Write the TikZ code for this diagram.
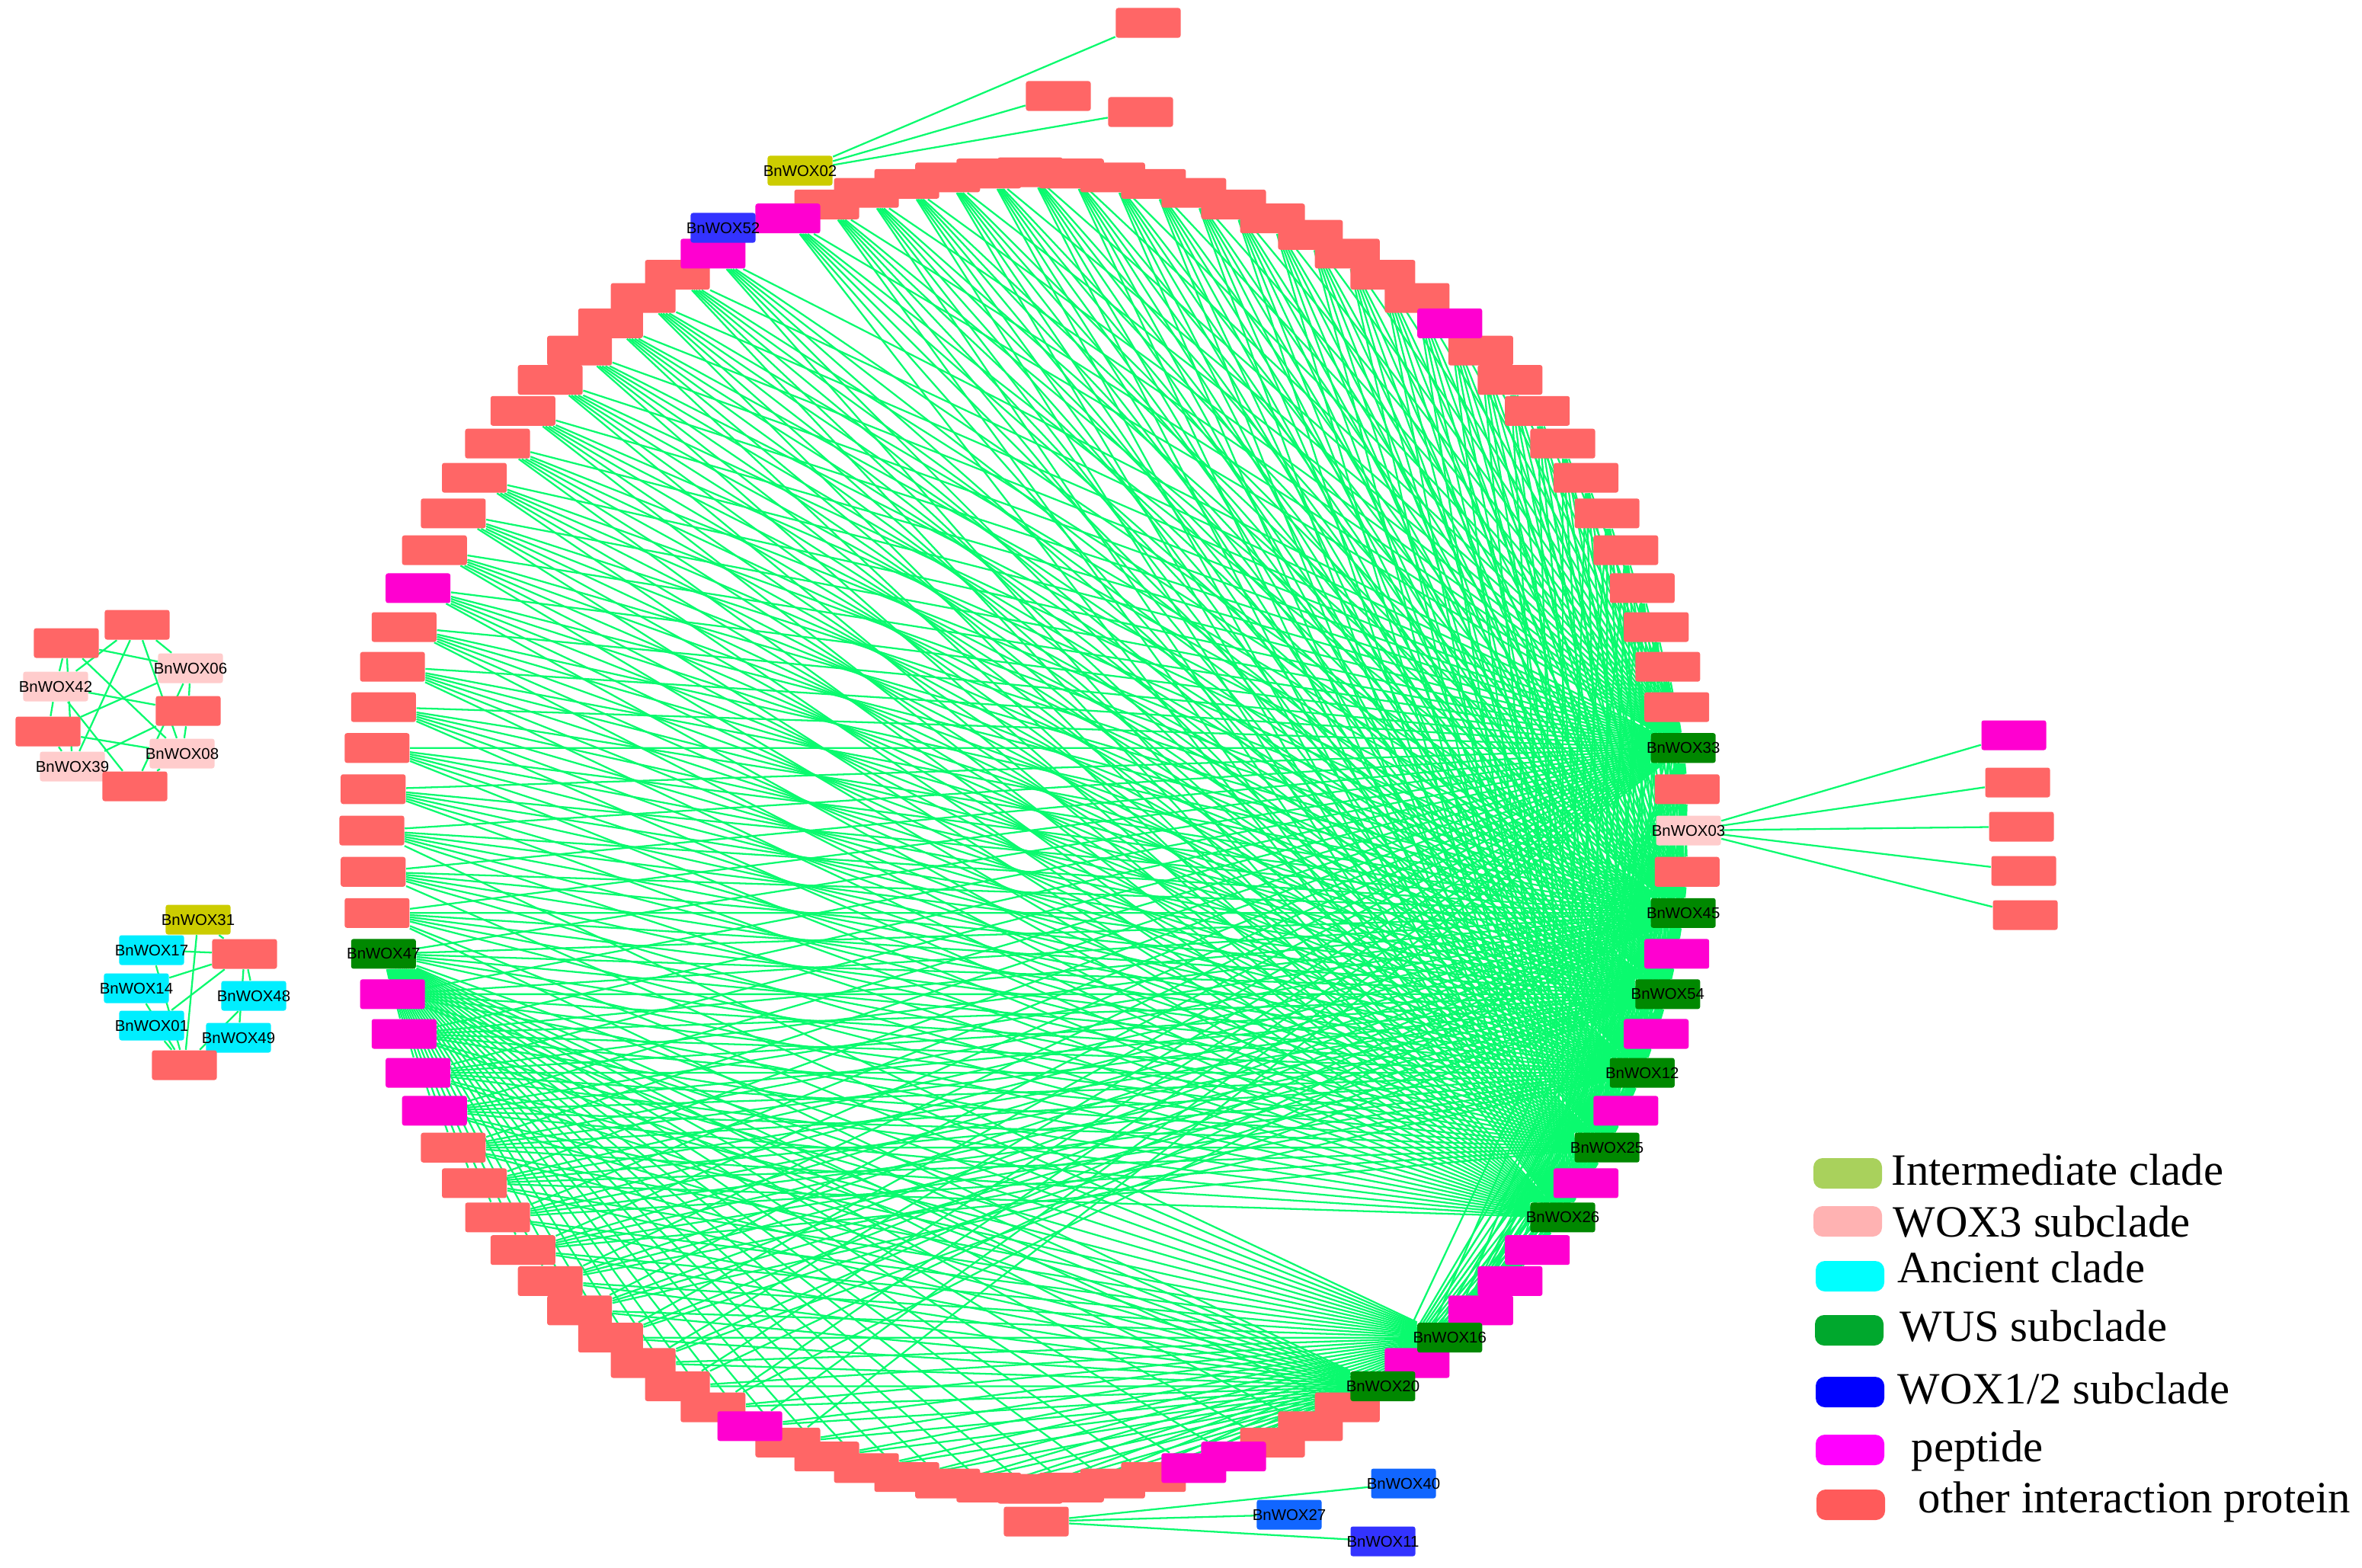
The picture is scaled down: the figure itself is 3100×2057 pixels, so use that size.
\documentclass[tikz,border=0pt]{standalone}
\usepackage{fontspec}
\setmainfont{Liberation Sans}
\newfontfamily\legfont{Liberation Serif}
\usetikzlibrary{backgrounds}
\definecolor{oth}{RGB}{255,102,102}
\definecolor{pep}{RGB}{255,0,208}
\definecolor{wus}{RGB}{0,136,0}
\definecolor{woxthree}{RGB}{255,204,204}
\definecolor{olive}{RGB}{204,204,0}
\definecolor{anc}{RGB}{0,238,255}
\definecolor{bluA}{RGB}{51,51,255}
\definecolor{bluB}{RGB}{17,102,255}
\definecolor{edgc}{RGB}{10,250,110}
\definecolor{lgInt}{RGB}{169,209,92}
\definecolor{lgWthree}{RGB}{255,178,178}
\definecolor{lgAnc}{RGB}{0,255,255}
\definecolor{lgWUS}{RGB}{0,168,45}
\definecolor{lgWot}{RGB}{0,0,255}
\definecolor{lgPep}{RGB}{255,0,255}
\definecolor{lgOth}{RGB}{255,90,90}
\newcommand{\wlab}[1]{\makebox[0pt]{#1}}
\begin{document}
\begin{tikzpicture}[x=0.01cm,y=-0.01cm,
  nd/.style={rectangle,rounded corners=0.03cm,minimum width=0.85cm,minimum height=0.39cm,inner sep=0pt,text=black,font=\fontsize{5.8}{6}\selectfont},
  edge/.style={draw=edgc,line width=0.65pt},
  sw/.style={rectangle,rounded corners=0.12cm,minimum width=0.9cm,minimum height=0.4cm,inner sep=0pt},
  lt/.style={anchor=base west,inner sep=0pt,font=\legfont\fontsize{16.7}{18}\selectfont}]
\useasboundingbox (0,0) rectangle (3100,2057);

% ---------- circle: other interaction proteins ----------
\foreach \k in {3,...,13} \node[nd,fill=oth] (c\k) at ({1352+864*cos(3.6*\k)},{1090-864*sin(3.6*\k)}) {};
\foreach \k in {15,...,30} \node[nd,fill=oth] (c\k) at ({1352+864*cos(3.6*\k)},{1090-864*sin(3.6*\k)}) {};
\foreach \k in {34,...,43} \node[nd,fill=oth] (c\k) at ({1352+864*cos(3.6*\k)},{1090-864*sin(3.6*\k)}) {};
\foreach \k in {45,...,52} \node[nd,fill=oth] (c\k) at ({1352+864*cos(3.6*\k)},{1090-864*sin(3.6*\k)}) {};
\foreach \k in {58,...,67} \node[nd,fill=oth] (c\k) at ({1352+864*cos(3.6*\k)},{1090-864*sin(3.6*\k)}) {};
\foreach \k in {69,...,78} \node[nd,fill=oth] (c\k) at ({1352+864*cos(3.6*\k)},{1090-864*sin(3.6*\k)}) {};
\foreach \k in {1,81,82,83,99} \node[nd,fill=oth] (c\k) at ({1352+864*cos(3.6*\k)},{1090-864*sin(3.6*\k)}) {};
% ---------- circle: peptides ----------
\foreach \k in {14,31,33,44,54,55,56,57,68,79,80,85,87,88,89,91,93,95,97}
  \node[nd,fill=pep] (c\k) at ({1352+864*cos(3.6*\k)},{1090-864*sin(3.6*\k)}) {};
% ---------- circle: WUS subclade ----------
\foreach \k/\l in {2/33,98/45,96/54,94/12,92/25,90/26,86/16,84/20,53/47}
  \node[nd,fill=wus] (c\k) at ({1352+864*cos(3.6*\k)},{1090-864*sin(3.6*\k)}) {\wlab{BnWOX\l}};
\node[nd,fill=woxthree] (c0) at (2216,1090) {\wlab{BnWOX03}};
\node[nd,fill=bluA] (c32) at (949,299) {\wlab{BnWOX52}};

% ---------- outer satellites ----------
\node[nd,fill=olive] (w02) at (1050,224) {\wlab{BnWOX02}};
\node[nd,fill=oth] (ta) at (1507,30) {};
\node[nd,fill=oth] (tb) at (1389,126) {};
\node[nd,fill=oth] (tc) at (1497,147) {};
\node[nd,fill=pep] (ra) at (2643,965) {};
\node[nd,fill=oth] (rb) at (2648,1027) {};
\node[nd,fill=oth] (rc) at (2653,1085) {};
\node[nd,fill=oth] (rd) at (2656,1143) {};
\node[nd,fill=oth] (re) at (2658,1201) {};
\node[nd,fill=oth] (bo) at (1360,1997) {};
\node[nd,fill=bluB] (w40) at (1842,1947) {\wlab{BnWOX40}};
\node[nd,fill=bluB] (w27) at (1692,1988) {\wlab{BnWOX27}};
\node[nd,fill=bluA] (w11) at (1815,2023) {\wlab{BnWOX11}};

% ---------- left cluster (WOX3) ----------
\node[nd,fill=oth] (la) at (87,844) {};
\node[nd,fill=oth] (lb) at (180,820) {};
\node[nd,fill=woxthree] (w06) at (250,877) {\wlab{BnWOX06}};
\node[nd,fill=woxthree] (w42) at (73,901) {\wlab{BnWOX42}};
\node[nd,fill=oth] (lc) at (247,933) {};
\node[nd,fill=oth] (ld) at (63,960) {};
\node[nd,fill=woxthree] (w08) at (239,989) {\wlab{BnWOX08}};
\node[nd,fill=woxthree] (w39) at (95,1006) {\wlab{BnWOX39}};
\node[nd,fill=oth] (le) at (177,1032) {};

% ---------- left cluster (ancient) ----------
\node[nd,fill=olive] (w31) at (260,1207) {\wlab{BnWOX31}};
\node[nd,fill=anc] (w17) at (199,1247) {\wlab{BnWOX17}};
\node[nd,fill=oth] (lf) at (321,1252) {};
\node[nd,fill=anc] (w14) at (179,1297) {\wlab{BnWOX14}};
\node[nd,fill=anc] (w48) at (333,1307) {\wlab{BnWOX48}};
\node[nd,fill=anc] (w01) at (199,1346) {\wlab{BnWOX01}};
\node[nd,fill=anc] (w49) at (313,1362) {\wlab{BnWOX49}};
\node[nd,fill=oth] (lg) at (242,1398) {};

% ---------- edges ----------
\begin{pgfonlayer}{background}
\foreach \w/\m in {2/69,98/67,96/65,94/63,92/61,90/59} {
  \foreach \k in {3,...,\m} {\ifnum\k=32\relax\else\draw[edge] (c\w) -- (c\k);\fi}
  \foreach \k in {1,84,85,...,99} {\ifnum\k=\w\relax\else\draw[edge] (c\w) -- (c\k);\fi}
}
\foreach \w/\a in {86/50,84/52} {
  \foreach \k in {\a,...,83} {\draw[edge] (c\w) -- (c\k);}
  \foreach \k in {85,...,99} {\ifnum\k=\w\relax\else\draw[edge] (c\w) -- (c\k);\fi}
}
\foreach \k in {54,...,83} \draw[edge] (c53) -- (c\k);
\foreach \t in {ta,tb,tc} \draw[edge] (w02) -- (\t);
\foreach \t in {ra,rb,rc,rd,re} \draw[edge] (c0) -- (\t);
\foreach \t in {w40,w27,w11} \draw[edge] (bo) -- (\t);
\foreach \a in {w42,w06,w08,w39} \foreach \b in {la,lb,lc,ld,le} \draw[edge] (\a) -- (\b);
\foreach \a in {w31,w17,w14,w01,w48,w49} \foreach \b in {lf,lg} \draw[edge] (\a) -- (\b);
\end{pgfonlayer}

% ---------- legend ----------
\node[sw,fill=lgInt] (s1) at (2425,1540) {};
\node[sw,fill=lgWthree] (s2) at (2425,1603) {};
\node[sw,fill=lgAnc] (s3) at (2428,1675) {};
\node[sw,fill=lgWUS] (s4) at (2427,1746) {};
\node[sw,fill=lgWot] (s5) at (2428,1827) {};
\node[sw,fill=lgPep] (s6) at (2428,1903) {};
\node[sw,fill=lgOth] (s7) at (2429,1975) {};
\node[lt] (g1) at (2482,1555) {Intermediate clade};
\node[lt] (g2) at (2484,1623) {WOX3 subclade};
\node[lt] (g3) at (2490,1683) {Ancient clade};
\node[lt] (g4) at (2493,1760) {WUS subclade};
\node[lt] (g5) at (2490,1842) {WOX1/2 subclade};
\node[lt] (g6) at (2508,1918) {peptide};
\node[lt] (g7) at (2517,1985) {other interaction protein};
\end{tikzpicture}
\end{document}
